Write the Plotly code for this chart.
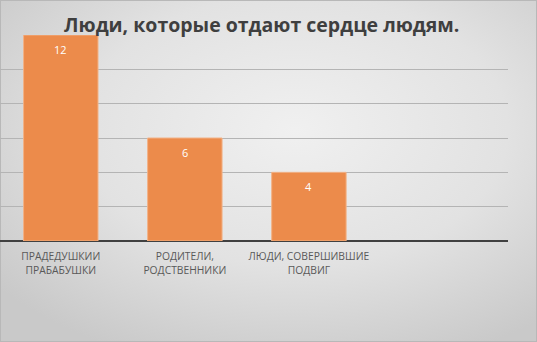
import base64
import plotly.graph_objects as go

# Chart data
categories = ["ПРАДЕДУШКИИ<br>ПРАБАБУШКИ", "РОДИТЕЛИ,<br>РОДСТВЕННИКИ", "ЛЮДИ, СОВЕРШИВШИЕ<br>ПОДВИГ"]
values = [12, 6, 4]
positions = [0, 1, 2]
title_text = "Люди, которые отдают сердце людям."

W, H = 537, 342
FONT = "Open Sans"

# Soft gray radial background with a thin frame
svg = f"""<svg xmlns='http://www.w3.org/2000/svg' width='{W}' height='{H}' viewBox='0 0 {W} {H}' preserveAspectRatio='none'>
<defs><radialGradient id='g' cx='0.55' cy='0.38' r='0.72'>
<stop offset='0' stop-color='#f0f0f0'/><stop offset='0.55' stop-color='#e2e2e2'/><stop offset='1' stop-color='#c9c9c9'/>
</radialGradient></defs>
<rect x='0' y='0' width='{W}' height='{H}' fill='url(#g)'/>
<rect x='0.5' y='0.5' width='{W-1}' height='{H-1}' fill='none' stroke='#b8b8b8' stroke-width='1'/>
</svg>"""
bg_uri = "data:image/svg+xml;base64," + base64.b64encode(svg.encode()).decode()

fig = go.Figure()
fig.add_trace(go.Bar(
    x=positions,
    y=values,
    width=0.6,
    marker=dict(color="#ec8b4b", line=dict(width=1, color="#f2b287")),
    hoverinfo="skip",
))

# Value labels inside the top of each bar
for xi, v in zip(positions, values):
    fig.add_annotation(
        x=xi, y=v, xref="x", yref="y", text=str(v), showarrow=False,
        yshift=-14, font=dict(family=FONT, size=11, color="white"),
    )

fig.add_annotation(
    x=0.487, y=1 - 25 / H, xref="paper", yref="paper", text=f"<b>{title_text}</b>",
    showarrow=False, xanchor="center", yanchor="middle",
    font=dict(family=FONT, size=19.5, color="#3f3f3f"),
)

fig.update_layout(
    width=W, height=H,
    margin=dict(l=0, r=0, t=0, b=0),
    paper_bgcolor="#e0e0e0",
    plot_bgcolor="rgba(0,0,0,0)",
    showlegend=False,
    images=[dict(source=bg_uri, xref="paper", yref="paper", x=0, y=1,
                 sizex=1, sizey=1, sizing="stretch", layer="below",
                 xanchor="left", yanchor="top")],
    xaxis=dict(
        domain=[0, 508 / W],
        range=[-0.49, 3.605],
        tickmode="array", tickvals=positions, ticktext=categories,
        tickfont=dict(family=FONT, size=10.3, color="#595959"),
        ticklabelstandoff=8,
        showgrid=False, zeroline=False, showline=False, ticks="",
    ),
    yaxis=dict(
        domain=[(H - 241) / H, (H - 35) / H],
        range=[0, 12],
        dtick=2,
        showticklabels=False,
        showgrid=True, gridcolor="#b4b4b4", gridwidth=1,
        zeroline=True, zerolinecolor="#404040", zerolinewidth=2,
        showline=False, ticks="",
    ),
)

fig.write_html("out.html")
